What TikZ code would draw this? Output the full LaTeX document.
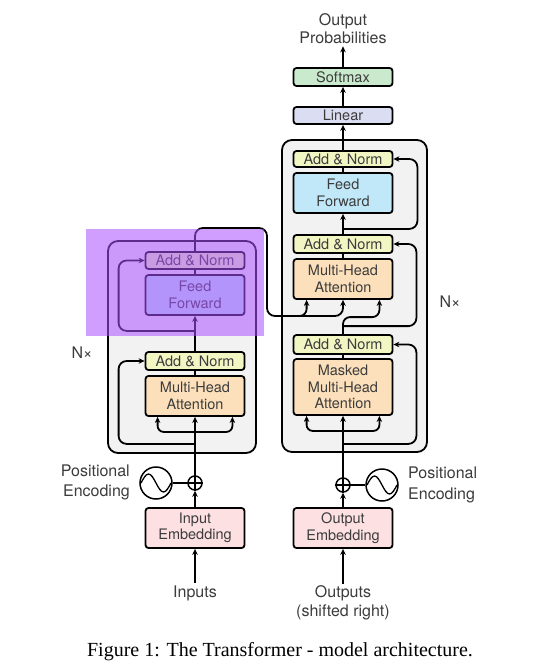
\documentclass[tikz,border=0pt]{standalone}
\usepackage{fontspec}
\setmainfont{TeX Gyre Heros}
\newfontfamily\capfont{Liberation Serif}
\usetikzlibrary{arrows.meta,calc}
\definecolor{addnorm}{RGB}{241,246,195}
\definecolor{mhac}{RGB}{252,224,187}
\definecolor{ffc}{RGB}{192,232,248}
\definecolor{linc}{RGB}{219,221,242}
\definecolor{smc}{RGB}{202,234,206}
\definecolor{embc}{RGB}{252,224,226}
\definecolor{boxg}{RGB}{242,242,242}
\definecolor{txt}{RGB}{60,60,60}
\definecolor{hl}{RGB}{170,80,255}
\begin{document}
\begin{tikzpicture}[x=1pt,y=-1pt,
  blk/.style={draw, line width=1.8pt, rounded corners=3pt, minimum width=99pt,
    inner sep=0pt, text=txt, font=\fontsize{14.5}{16.5}\selectfont, align=center},
  gbox/.style={draw, line width=1.8pt, rounded corners=10pt, fill=boxg, inner sep=0pt},
  lbl/.style={text=txt, font=\fontsize{16}{19}\selectfont, align=center, inner sep=2pt},
  ln/.style={line width=1.8pt},
  arr/.style={line width=1.8pt, -{Stealth[length=6pt,width=5.5pt]}},
  circ/.style={draw, circle, line width=1.5pt, inner sep=0pt},
]
\useasboundingbox (0,0) rectangle (550,669);
\fill[white] (0,0) rectangle (550,669);

% grey boxes
\node[gbox, minimum width=148pt, minimum height=212pt] (encbox) at (182,347) {};
\node[gbox, minimum width=145pt, minimum height=312pt] (decbox) at (354.5,296) {};

% encoder blocks
\node[blk, fill=addnorm, minimum height=17pt] (ean2) at (195,260.5) {Add \& Norm};
\node[blk, fill=ffc, minimum height=40pt] (eff) at (195,295) {Feed\\Forward};
\node[blk, fill=addnorm, minimum height=18pt] (ean1) at (195,361) {Add \& Norm};
\node[blk, fill=mhac, minimum height=40pt] (emha) at (195,396) {Multi-Head\\Attention};
\node[blk, fill=embc, minimum height=40pt] (iemb) at (195,528) {Input\\Embedding};
\node[circ, minimum size=14pt] (eplus) at (195,483) {};
\draw[line width=1.3pt] (eplus.north) -- (eplus.south) (eplus.west) -- (eplus.east);
\node[circ, minimum size=32pt] (esin) at (156,483) {};
\draw[line width=1.3pt] ([xshift=-15pt]esin.center) sin ++(7.5,-9) cos ++(7.5,9) sin ++(7.5,9) cos ++(7.5,-9);
\node[lbl, anchor=east, font=\fontsize{16}{20.5}\selectfont, align=right] (eposl) at (132,482.5) {Positional\\Encoding};
\node[lbl] (inl) at (195,593) {Inputs};
\node[lbl] (enx) at (82,353) {N×};

% decoder blocks
\node[blk, fill=smc, minimum height=18pt] (softmax) at (343,77) {Softmax};
\node[blk, fill=linc, minimum height=17pt] (linear) at (343,115.5) {Linear};
\node[blk, fill=addnorm, minimum height=16pt] (dan3) at (343,159) {Add \& Norm};
\node[blk, fill=ffc, minimum height=40pt] (dff) at (343,193) {Feed\\Forward};
\node[blk, fill=addnorm, minimum height=18pt] (dan2) at (343,244) {Add \& Norm};
\node[blk, fill=mhac, minimum height=40pt] (dmha) at (343,279) {Multi-Head\\Attention};
\node[blk, fill=addnorm, minimum height=19pt] (dan1) at (343,344.5) {Add \& Norm};
\node[blk, fill=mhac, minimum height=56pt] (dmmha) at (343,387) {Masked\\Multi-Head\\Attention};
\node[blk, fill=embc, minimum height=40pt] (oemb) at (343,528) {Output\\Embedding};
\node[circ, minimum size=14pt] (dplus) at (343,485) {};
\draw[line width=1.3pt] (dplus.north) -- (dplus.south) (dplus.west) -- (dplus.east);
\node[circ, minimum size=32pt] (dsin) at (382,485) {};
\draw[line width=1.3pt] ([xshift=-15pt]dsin.center) sin ++(7.5,-9) cos ++(7.5,9) sin ++(7.5,9) cos ++(7.5,-9);
\node[lbl, anchor=west, font=\fontsize{16}{20.5}\selectfont, align=left] (dposl) at (406,485) {Positional\\Encoding};
\node[lbl] (outl) at (343,603) {Outputs\\(shifted right)};
\node[lbl, font=\fontsize{16}{18}\selectfont] (outprob) at (343,29) {Output\\Probabilities};
\node[lbl] (dnx) at (450,302) {N×};

% encoder connectors
\draw[arr] (inl) -- (iemb);
\draw[arr] (iemb) -- (eplus);
\draw[ln] (esin) -- (eplus);
\draw[arr] (eplus) -- (emha);
\draw[arr, rounded corners=6pt] ($(emha.south)+(0,15)$) -| ($(emha.south west)+(13,0)$);
\draw[arr, rounded corners=6pt] ($(emha.south)+(0,15)$) -| ($(emha.south east)+(-13,0)$);
\draw[arr, rounded corners=8pt] ($(emha.south)+(0,27)$) -| ($(ean1.west)+(-26,0)$) -- (ean1.west);
\draw[ln] (emha) -- (ean1);
\draw[arr] (ean1) -- (eff);
\draw[arr, rounded corners=8pt] ($(eff.south)+(0,15)$) -| ($(ean2.west)+(-26,0)$) -- (ean2.west);
\draw[ln] (eff) -- (ean2);
\coordinate (encR) at (267,228);
\coordinate (encB) at (267,316);
\coordinate (encS) at (285,316);
\draw[arr, rounded corners=8pt] (ean2.north) |- (encR) -- (encB) -| (dmha.south);
\draw[arr, rounded corners=7pt] (encS) -| ($(dmha.south west)+(14,0)$);

% decoder connectors
\draw[arr] (outl) -- (oemb);
\draw[arr] (oemb) -- (dplus);
\draw[ln] (dsin) -- (dplus);
\draw[arr] (dplus) -- (dmmha);
\draw[arr, rounded corners=6pt] ($(dmmha.south)+(0,15)$) -| ($(dmmha.south west)+(14,0)$);
\draw[arr, rounded corners=6pt] ($(dmmha.south)+(0,15)$) -| ($(dmmha.south east)+(-14,0)$);
\draw[arr, rounded corners=8pt] ($(dmmha.south)+(0,28)$) -| ($(dan1.east)+(23,0)$) -- (dan1.east);
\draw[ln] (dmmha) -- (dan1);
\draw[arr, rounded corners=7pt] (dan1.north) -- ($(dan1.north)+(0,-17)$) -| ($(dmha.south east)+(-14,0)$);
\draw[arr, rounded corners=8pt] ($(dan1.north)+(0,-8)$) -| ($(dan2.east)+(23,0)$) -- (dan2.east);
\draw[ln] (dmha) -- (dan2);
\draw[arr] (dan2) -- (dff);
\draw[arr, rounded corners=8pt] ($(dff.south)+(0,15)$) -| ($(dan3.east)+(24,0)$) -- (dan3.east);
\draw[ln] (dff) -- (dan3);
\draw[arr] (dan3) -- (linear);
\draw[arr] (linear) -- (softmax);
\draw[arr] (softmax) -- (outprob);

% highlight overlay
\fill[hl, fill opacity=0.55] (86,229) rectangle (264,336);

% caption
\node[font=\capfont\fontsize{20}{23}\selectfont] (cap) at (280,652) {Figure 1: The Transformer - model architecture.};
\end{tikzpicture}
\end{document}
